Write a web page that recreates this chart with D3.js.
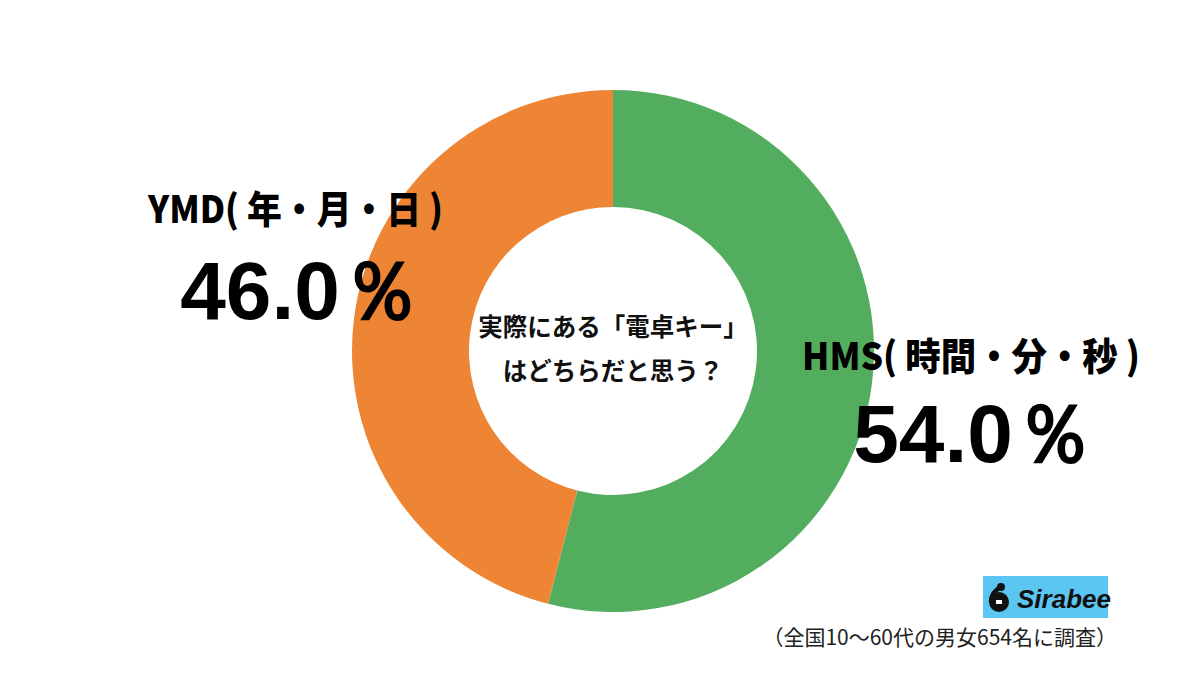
<!DOCTYPE html>
<html><head><meta charset="utf-8">
<script src="https://cdn.jsdelivr.net/npm/d3@7"></script>
<style>
html,body{margin:0;padding:0;background:#fff;}
svg{display:block;}
</style></head>
<body>
<svg id="chart" width="1200" height="680"></svg>
<script>
const categories = ["HMS( 時間・分・秒 )", "YMD( 年・月・日 )"];
const values = [54.0, 46.0];
const valueLabels = ["54.0％", "46.0％"];
const centerLines = ["実際にある「電卓キー」", "はどちらだと思う？"];
const footnote = "（全国10～60代の男女654名に調査）";
const logoText = "Sirabee";

const colors = ["#52ae5e", "#ee8535"];
const cx = 613, cy = 351, rOuter = 261, rInner = 144;
const jp = "'Noto Sans CJK JP','Noto Sans',sans-serif";

const svg = d3.select("#chart");
const g = svg.append("g").attr("transform", `translate(${cx},${cy})`);

const pie = d3.pie().sort(null).value(d => d)(values);
const arc = d3.arc().innerRadius(rInner).outerRadius(rOuter);
g.selectAll("path").data(pie).join("path")
  .attr("d", arc).attr("fill", (d, i) => colors[i]);

// center question
g.selectAll("text.q").data(centerLines).join("text")
  .attr("class", "q")
  .attr("x", 0).attr("y", (d, i) => -15 + i * 44)
  .attr("text-anchor", "middle")
  .attr("font-family", jp).attr("font-weight", 700).attr("font-size", 24.5)
  .attr("fill", "#111").text(d => d);

// labels: index 0 = HMS (right), 1 = YMD (left)
const labelPos = [
  { x1: 802, w: 338, y1: 370, x2: 974, y2: 462 },
  { x1: 148, w: 295, y1: 223, x2: 301, y2: 319 }
];
categories.forEach((c, i) => {
  svg.append("text").attr("x", labelPos[i].x1).attr("y", labelPos[i].y1)
    .attr("text-anchor", "start").attr("font-family", jp)
    .attr("textLength", labelPos[i].w).attr("lengthAdjust", "spacingAndGlyphs")
    .attr("font-weight", 900).attr("font-size", 38).attr("fill", "#000").text(c);
  svg.append("text").attr("x", labelPos[i].x2).attr("y", labelPos[i].y2)
    .attr("text-anchor", "middle").attr("font-family", "'Liberation Sans',Arial,sans-serif")
    .attr("font-weight", 700).attr("font-size", 82).attr("fill", "#000").text(valueLabels[i]);
});

// logo
const logo = svg.append("g").attr("transform", "translate(983,576)");
logo.append("rect").attr("width", 125).attr("height", 42).attr("fill", "#5cc6f3");
logo.append("path").attr("d", "M18,11 C10,15 8,20 8,26").attr("stroke", "#111").attr("stroke-width", 4.5).attr("fill", "none");
logo.append("circle").attr("cx", 16).attr("cy", 26).attr("r", 10).attr("fill", "#111");
logo.append("circle").attr("cx", 18).attr("cy", 11).attr("r", 4).attr("fill", "#111");
logo.append("rect").attr("x", 13).attr("y", 24).attr("width", 6).attr("height", 4).attr("fill", "#fff");
logo.append("text").attr("x", 34).attr("y", 32)
  .attr("font-family", "'Liberation Sans',Arial,sans-serif").attr("font-weight", 700)
  .attr("font-style", "italic").attr("font-size", 26).attr("fill", "#111").text(logoText);

svg.append("text").attr("x", 1117).attr("y", 645).attr("text-anchor", "end")
  .attr("font-family", jp).attr("font-size", 21).attr("fill", "#222").text(footnote);
</script>
</body></html>
